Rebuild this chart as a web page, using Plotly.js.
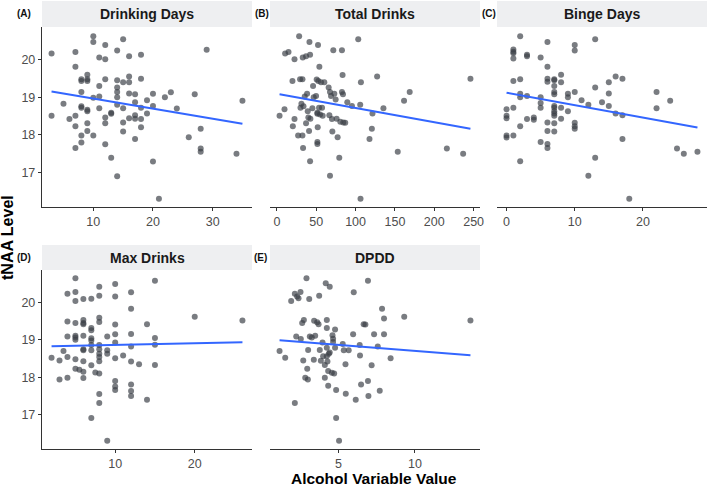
<!DOCTYPE html>
<html><head><meta charset="utf-8">
<script src="https://cdn.plot.ly/plotly-3.0.1.min.js"></script>
<style>html,body{margin:0;padding:0;background:#fff}#chart{width:709px;height:488px}</style>
</head><body><div id="chart"></div>
<script>
const panelTitles = ['Drinking Days', 'Total Drinks', 'Binge Days', 'Max Drinks', 'DPDD'];
const panelLabels = ['(A)', '(B)', '(C)', '(D)', '(E)'];
const xTickVals = [[10, 20, 30], [0, 50, 100, 150, 200, 250], [0, 10, 20], [10, 20], [5, 10]];
const yTickVals = [17, 18, 19, 20];
const yAxisTitle = 'tNAA Level';
const xAxisTitle = 'Alcohol Variable Value';

const drinkingDaysX = [3,3,5,6,7,7,7,7,7,8,8,8,8,8,8,8,9,9,9,9,9,9,9,10,10,10,10,11,11,11,11,12,12,12,12,12,12,13,13,13,14,14,14,14,14,14,14,15,15,15,15,15,16,16,16,16,16,17,17,17,17,17,18,18,18,18,18,19,19,20,20,20,21,22,23,24,26,27,28,28,28,29,34,35];
const drinkingDaysY = [20.16,18.51,18.83,18.42,20.2,19.81,18.51,18.23,17.65,19.48,19.43,19.14,18.76,18.72,17.98,17.8,19.6,19.48,19.43,18.67,18.63,18.31,18.1,20.62,20.47,18.99,17.98,20.06,19.3,19.02,18.71,20.39,20.01,19.48,18.46,18.31,17.75,18.59,18.56,17.39,20.24,19.45,19.26,19.14,19.0,18.8,16.9,20.54,19.4,18.71,18.33,18.09,20.09,19.55,19.4,19.1,18.44,19.08,18.87,18.52,18.43,17.89,20.13,19.49,18.72,18.42,18.2,18.92,18.57,19.09,18.77,17.29,16.3,19.0,19.13,18.7,17.94,19.08,18.16,17.64,17.55,20.26,17.5,18.91];

const totalDrinksX = [3.4,9.7,10.5,14.8,19.8,20.3,22.4,22.4,27,28.3,29.5,30,31.2,32.5,32.5,32.9,33.3,33.8,35.4,37.1,37.1,38.4,39.2,40,40.9,41.4,42.2,42.2,42.6,45.1,46,46.8,49.8,50.6,51.5,51.5,51.5,51.5,51.9,52.3,52.7,53.6,54,54.9,56.1,57.4,58.2,60.3,65.8,66.7,67.5,67.5,68.8,70,70.5,71.7,73,74.7,75.9,77.2,79.3,80.6,82.7,82.7,83.5,84,84.4,86.9,89.5,95.4,103.4,105.9,106.8,106.3,117.7,120.7,121.5,127.4,135.4,153.6,161.6,168.8,216,236.7,246];
const totalDrinksY = [18.51,18.68,20.16,20.2,19.43,18.23,18.42,20.01,17.98,20.62,19.48,18.72,18.83,19.48,17.98,20.06,17.65,18.76,19.02,20.09,18.31,19.09,18.63,18.46,18.1,20.47,20.13,17.3,18.43,18.71,19.3,19.0,19.03,19.47,18.59,18.56,17.81,17.76,18.2,20.39,19.43,18.72,19.81,18.54,19.4,18.72,18.51,19.4,19.26,18.52,19.14,16.91,19.03,18.42,18.09,20.25,19.09,18.94,18.43,17.94,17.39,18.35,19.14,20.25,19.59,19.08,18.33,18.32,18.87,18.77,20.54,18.8,19.4,16.3,17.89,18.16,18.57,19.55,18.71,17.55,18.91,19.14,17.64,17.5,19.49];

const bingeDaysX = [0,0,0,0,0,1,1,1,1,1,1,1,2,2,2,2,2,2,3,3,3,3,4,4,5,5,5,5,5,6,6,6,6,6,6,6,6,7,7,7,7,7,7,7,7,7,7,7,7,8,8,8,8,9,9,9,10,10,10,10,10,10,11,12,12,13,13,13,14,15,15,15,16,16,17,17,17,18,22,22,24,25,26,28];
const bingeDaysY = [18.68,18.51,18.44,17.98,17.93,20.27,20.21,20.17,20.03,19.43,18.72,17.98,20.62,19.48,19.09,19.0,18.23,17.3,20.13,20.09,19.03,18.42,18.46,18.4,20.06,19.0,18.85,18.72,17.81,20.47,19.81,19.49,19.41,18.33,18.1,17.76,17.65,19.48,19.45,19.3,19.14,19.08,18.77,18.72,18.63,18.57,18.51,18.31,18.09,19.6,19.4,18.72,18.43,19.09,19.0,18.63,20.39,20.24,19.14,18.32,18.23,18.16,18.92,18.8,16.91,20.54,19.26,17.39,18.87,19.4,19.1,18.77,19.55,18.57,19.49,18.52,17.89,16.3,19.14,18.71,18.91,17.64,17.5,17.55];

const maxDrinksX = [2,3,3,3.5,4,4,4,4,4,5,5,5,5,5,5,5,5,5,5.5,6,6,6,6,6,6,6,6,6,6,7,7,7,7,7,7,7,7,7,7.5,8,8,8,8,8,8,8,8,8,8,8,8,9,9,9,9,10,10,10,10,10,10,10,10,10,11,12,12,12,12,12,12,12,12,13,14,14,15,15,15,15,20,26];
const maxDrinksY = [18.52,18.45,17.94,18.7,20.23,19.49,19.09,18.54,17.99,20.65,20.28,20.04,19.45,19.11,19.06,19.0,18.48,18.23,18.2,20.09,19.53,19.45,19.42,19.11,18.75,18.72,18.43,18.15,17.98,20.1,19.32,19.26,19.04,18.98,18.86,18.72,18.32,16.91,18.13,20.42,20.18,19.59,19.48,18.86,18.75,18.63,18.54,18.43,18.1,17.55,17.31,19.09,18.72,18.63,16.3,20.49,20.16,19.41,19.15,18.93,18.51,17.9,17.75,17.66,18.58,20.27,19.83,19.16,18.82,18.42,17.81,17.63,17.5,18.35,19.42,17.4,20.58,19.05,18.87,18.33,19.62,19.52];

const dpddX = [1.15,1.52,1.91,2.15,2.15,2.3,2.39,2.24,2.52,2.54,2.63,2.7,2.74,2.83,2.91,2.96,3.0,3.02,3.09,3.13,3.26,3.39,3.41,3.48,3.61,3.7,3.74,3.78,3.85,3.96,4.0,4.11,4.11,4.17,4.24,4.24,4.24,4.24,4.28,4.33,4.33,4.37,4.43,4.43,4.57,4.61,4.65,4.65,4.72,4.78,4.78,4.85,4.85,5.04,5.28,5.35,5.46,5.48,5.67,5.96,6.0,6.13,6.39,6.41,6.48,6.65,6.76,6.93,6.93,6.96,7.17,7.33,7.57,7.7,7.85,7.98,7.98,8.41,9.3,13.63];
const dpddY = [18.7,18.52,20.04,20.23,17.31,20.16,20.11,19.09,20.28,19.02,19.45,18.45,19.53,17.99,20.65,18.23,17.94,18.73,20.09,19.09,19.06,18.47,19.51,19.11,19.47,19.42,20.18,18.73,18.44,18.93,18.56,17.99,18.33,20.51,19.53,19.32,18.79,18.56,18.42,18.17,17.77,18.63,20.42,18.66,18.12,19.12,19.03,18.94,18.1,19.28,18.79,17.66,16.91,16.3,18.89,18.72,18.35,17.56,18.72,19.15,20.27,17.4,18.86,18.58,17.81,19.42,19.41,20.58,17.9,17.5,18.32,19.15,18.82,17.64,19.83,19.57,19.15,18.51,19.62,19.52];

const panelXs = [drinkingDaysX, totalDrinksX, bingeDaysX, maxDrinksX, dpddX];
const panelYs = [drinkingDaysY, totalDrinksY, bingeDaysY, maxDrinksY, dpddY];

// layout geometry (pixels in a 709x488 figure)
const W = 709, H = 488;
const colPx = [[42, 252], [270, 480], [497, 707]];
const rowPx = [[27, 207], [270, 449]];
const stripPx = [[1, 27], [245, 270]];
const labelCenterPx = [24, 262, 489, 24, 260];
const px = v => v / W, py = v => 1 - v / H;

function ols(x, y) {
  const n = x.length;
  const mx = x.reduce((a, b) => a + b, 0) / n, my = y.reduce((a, b) => a + b, 0) / n;
  let sxy = 0, sxx = 0;
  for (let i = 0; i < n; i++) { sxy += (x[i] - mx) * (y[i] - my); sxx += (x[i] - mx) ** 2; }
  const b = sxy / sxx; return [my - b * mx, b];
}
function expRange(arr) {
  const mn = Math.min(...arr), mx = Math.max(...arr), p = 0.05 * (mx - mn);
  return [mn - p, mx + p];
}
const yRange = expRange([].concat(...panelYs));

const font = 'Liberation Sans, Arial, Helvetica, sans-serif';
const traces = [], layout = {
  width: W, height: H, margin: {l: 0, r: 0, t: 0, b: 0},
  paper_bgcolor: '#fff', plot_bgcolor: '#fff', showlegend: false,
  font: {family: font, color: '#4d4d4d', size: 12},
  shapes: [], annotations: []
};

panelXs.forEach((xs, i) => {
  const ys = panelYs[i];
  const r = Math.floor(i / 3), c = i % 3;
  const sfx = i === 0 ? '' : String(i + 1);
  traces.push({
    type: 'scatter', mode: 'markers', x: xs, y: ys, xaxis: 'x' + sfx, yaxis: 'y' + sfx,
    marker: {size: 6, color: 'rgba(58,62,70,0.68)', line: {width: 0}}, hoverinfo: 'skip'
  });
  const [a, b] = ols(xs, ys);
  const x0 = Math.min(...xs), x1 = Math.max(...xs);
  traces.push({
    type: 'scatter', mode: 'lines', x: [x0, x1], y: [a + b * x0, a + b * x1],
    xaxis: 'x' + sfx, yaxis: 'y' + sfx, line: {color: '#3366FF', width: 2}, hoverinfo: 'skip'
  });
  const showY = c === 0;
  layout['xaxis' + sfx] = {
    domain: [px(colPx[c][0]), px(colPx[c][1])], anchor: 'y' + sfx,
    range: expRange(xs), tickvals: xTickVals[i], showgrid: false, zeroline: false,
    showline: true, linecolor: '#333', linewidth: 1.2, ticks: 'outside', ticklen: 3,
    tickcolor: '#333', tickwidth: 1, tickfont: {size: 12.5, color: '#4d4d4d', family: font}, fixedrange: true
  };
  layout['yaxis' + sfx] = {
    domain: [py(rowPx[r][1]), py(rowPx[r][0])], anchor: 'x' + sfx,
    range: yRange, tickvals: yTickVals, showgrid: false, zeroline: false,
    showline: showY, linecolor: '#333', linewidth: 1.2, ticks: showY ? 'outside' : '',
    ticklen: 3, tickcolor: '#333', showticklabels: showY,
    tickfont: {size: 12.5, color: '#4d4d4d', family: font}, fixedrange: true
  };
  layout.shapes.push({
    type: 'rect', xref: 'paper', yref: 'paper',
    x0: px(colPx[c][0]), x1: px(colPx[c][1]), y0: py(stripPx[r][1]), y1: py(stripPx[r][0]),
    fillcolor: '#eeeff1', line: {width: 0}, layer: 'below'
  });
  layout.annotations.push({
    xref: 'paper', yref: 'paper', x: px((colPx[c][0] + colPx[c][1]) / 2),
    y: py((stripPx[r][0] + stripPx[r][1]) / 2), text: '<b>' + panelTitles[i] + '</b>',
    showarrow: false, xanchor: 'center', yanchor: 'middle',
    font: {size: 14, color: '#1a1a1a', family: font}
  });
  layout.annotations.push({
    xref: 'paper', yref: 'paper', x: px(labelCenterPx[i]),
    y: py((stripPx[r][0] + stripPx[r][1]) / 2), text: '<b>' + panelLabels[i] + '</b>',
    showarrow: false, xanchor: 'center', yanchor: 'middle',
    font: {size: 10, color: '#111', family: font}
  });
});

layout.annotations.push({
  xref: 'paper', yref: 'paper', x: px(8), y: py((rowPx[0][0] + rowPx[1][1]) / 2),
  text: '<b>' + yAxisTitle + '</b>', textangle: -90, showarrow: false,
  xanchor: 'center', yanchor: 'middle', font: {size: 16, color: '#000', family: font}
});
layout.annotations.push({
  xref: 'paper', yref: 'paper', x: px((colPx[0][0] + colPx[2][1]) / 2), y: py(478.5),
  text: '<b>' + xAxisTitle + '</b>', showarrow: false, borderpad: 0,
  xanchor: 'center', yanchor: 'middle', font: {size: 15.5, color: '#000', family: font}
});

Plotly.newPlot('chart', traces, layout, {displayModeBar: false, staticPlot: true});
</script>
</body></html>
